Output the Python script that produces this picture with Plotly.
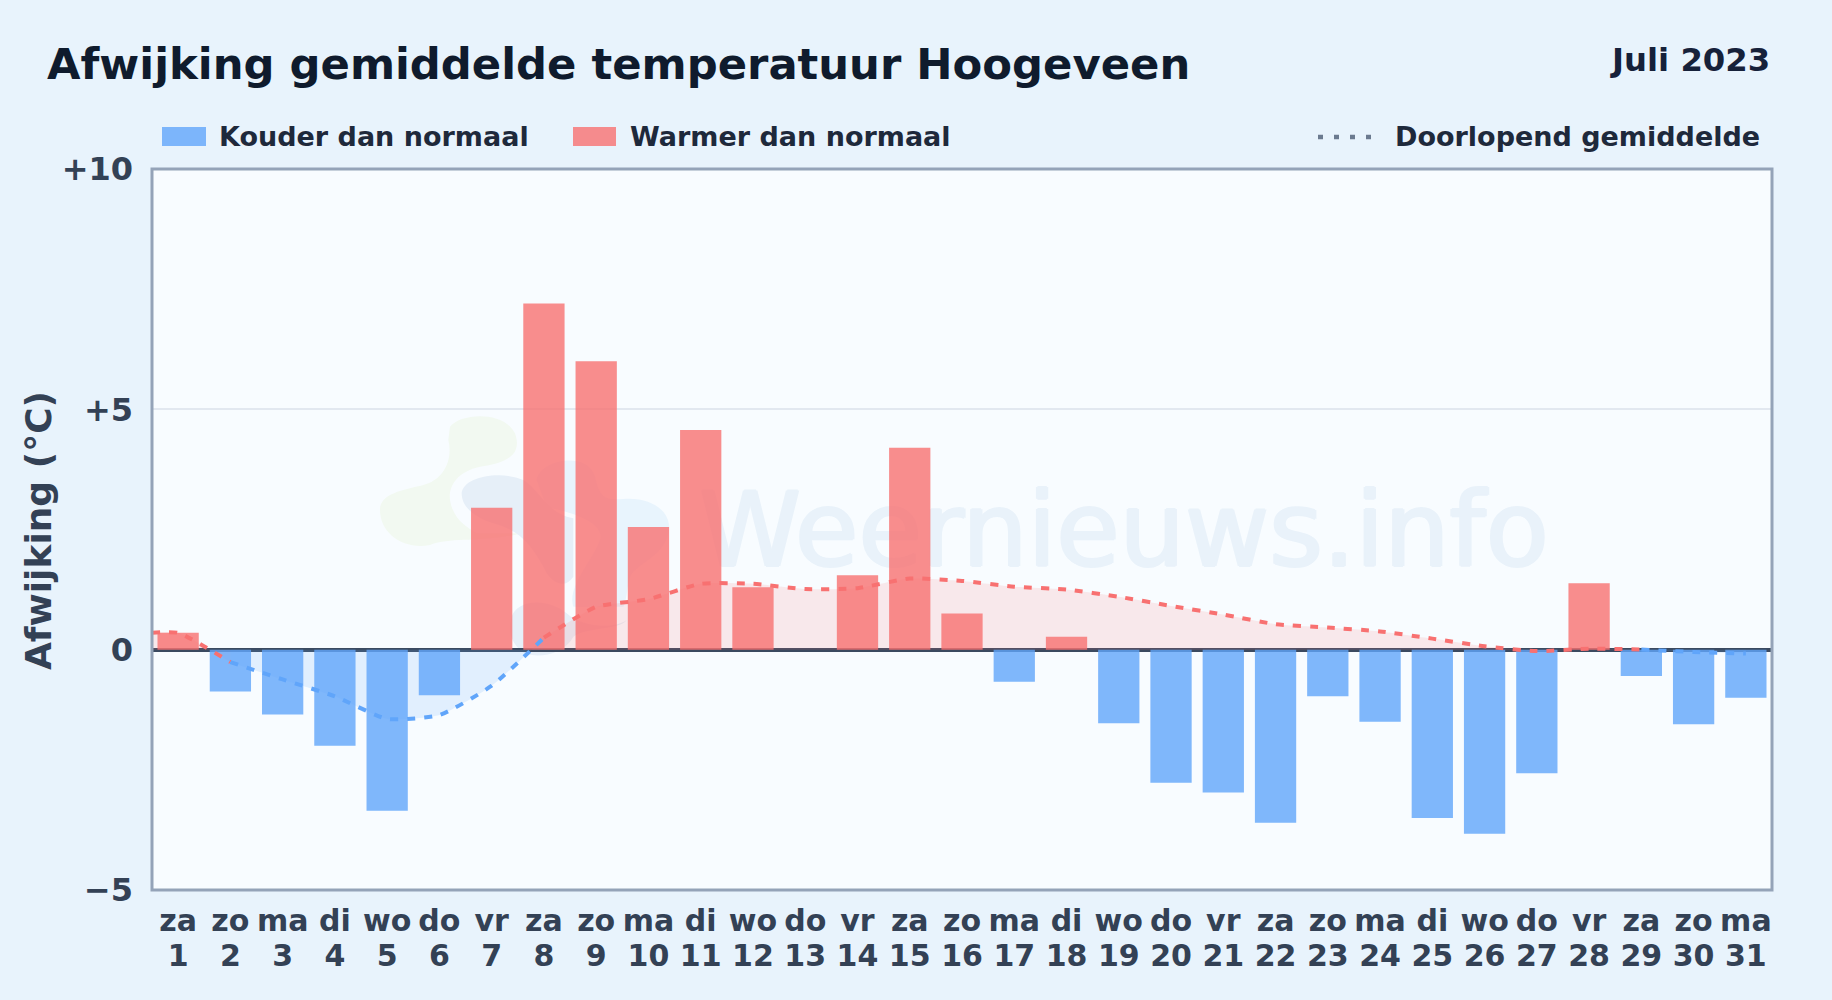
import plotly.graph_objects as go

days = ["za","zo","ma","di","wo","do","vr","za","zo","ma","di","wo","do","vr","za","zo","ma","di","wo","do","vr","za","zo","ma","di","wo","do","vr","za","zo","ma"]
dates = list(range(1, 32))
deviation = [0.35,-0.87,-1.35,-2.0,-3.35,-0.95,2.95,7.2,6.0,2.55,4.57,1.3,0.0,1.55,4.2,0.75,-0.67,0.27,-1.53,-2.77,-2.97,-3.6,-0.97,-1.5,-3.5,-3.83,-2.57,1.38,-0.55,-1.55,-1.0]
running = [0.35,-0.26,-0.62,-0.97,-1.44,-1.36,-0.75,0.25,0.89,1.05,1.37,1.37,1.26,1.28,1.48,1.43,1.31,1.25,1.10,0.91,0.73,0.53,0.46,0.38,0.23,0.07,-0.03,0.02,0.003,-0.05,-0.08]
y_ticks = [-5, 0, 5, 10]
y_labels = ["\u22125", "0", "+5", "+10"]

INK = "#334155"
FONT = "DejaVu Sans"
RED = "rgba(248,113,113,0.8)"
BLUE = "rgba(96,165,250,0.8)"
RED_LINE = "#f87171"
BLUE_LINE = "#60a5fa"
RED_FILL = "rgba(248,113,113,0.14)"
BLUE_FILL = "rgba(96,165,250,0.15)"
SMOOTH = 0.55
WATERMARK = "#e9f2fa"
xr = [0.5, 31.5]

fig = go.Figure()

fig.add_trace(go.Scatter(x=[19.1], y=[2.28], mode="text", text=["Weernieuws.info"],
    textfont=dict(family=FONT, size=103, color=WATERMARK,
                  shadow=f"1.5px 0 0 {WATERMARK}, -1.5px 0 0 {WATERMARK}, 0 1px 0 {WATERMARK}, 0 -1px 0 {WATERMARK}"),
    showlegend=False, hoverinfo="skip"))

segments = [(0, 2, True), (1, 8, False), (7, 29, True), (28, 31, False)]

def segment(start, stop):
    xs = dates[start:stop]
    ys = running[start:stop]
    if start == 0:
        xs = [0.5] + xs
        ys = [running[0]] + ys
    return xs, ys

for a, b, warm in segments:
    xs, ys = segment(a, b)
    fig.add_trace(go.Scatter(x=xs, y=ys, mode="none", fill="tozeroy", line=dict(shape="spline", smoothing=SMOOTH),
        fillcolor=RED_FILL if warm else BLUE_FILL, showlegend=False, hoverinfo="skip"))

colors = [RED if v >= 0 else BLUE for v in deviation]
fig.add_trace(go.Bar(x=dates, y=deviation, marker=dict(color=colors, line=dict(width=0)), width=0.79,
    xaxis="x2", yaxis="y2", showlegend=False))

for a, b, warm in segments:
    xs, ys = segment(a, b)
    fig.add_trace(go.Scatter(x=xs, y=ys, mode="lines", xaxis="x3", yaxis="y3",
        line=dict(color=RED_LINE if warm else BLUE_LINE, width=4, dash="8px,9px", shape="spline", smoothing=SMOOTH),
        showlegend=False, hoverinfo="skip"))

hidden = dict(visible=False, fixedrange=True)
tick_font = dict(family=FONT, size=30, color=INK, weight="bold")
fig.update_layout(
    width=1832, height=1000, margin=dict(l=152, r=60, t=169, b=110),
    paper_bgcolor="#e8f3fc", plot_bgcolor="#f8fcff",
    font=dict(family=FONT, color=INK),
    barmode="overlay",
    xaxis=dict(range=xr, tickmode="array", tickvals=dates, ticktext=days, tickangle=0,
        tickfont=tick_font, ticks="", ticklabelstandoff=10, showgrid=False, zeroline=False, showline=False),
    yaxis=dict(range=[-5, 10], tickmode="array", tickvals=y_ticks, ticktext=y_labels,
        tickfont=dict(family=FONT, size=32, color=INK, weight="bold"), ticks="", ticklabelstandoff=18,
        showgrid=True, gridcolor="#e2e8f0", gridwidth=2, zeroline=False, showline=False),
    xaxis2=dict(range=xr, overlaying="x", **hidden),
    yaxis2=dict(range=[-5, 10], overlaying="y", **hidden),
    xaxis3=dict(range=xr, overlaying="x", anchor="y", tickmode="array", tickvals=dates, ticktext=[str(d) for d in dates],
        tickangle=0, tickfont=tick_font, ticks="", ticklabelstandoff=45, showgrid=False, zeroline=False, showline=False),
    yaxis3=dict(range=[-5, 10], overlaying="y", visible=True, showgrid=False, showline=False, ticks="", showticklabels=False,
        zeroline=True, zerolinecolor="#3b4a60", zerolinewidth=4, fixedrange=True),
)

plot_w, plot_h = 1832 - 152 - 60, 1000 - 169 - 110
def ax(v):
    return (v - 152) / plot_w
def ay(v):
    return 1 - (v - 169) / plot_h

texts = [
    ("Afwijking gemiddelde temperatuur Hoogeveen", 45, 64, "left", 43.3, "#0f1b2d", 0),
    ("Juli 2023", 1772, 60, "right", 32.3, "#16213a", 0),
    ("Kouder dan normaal", 217, 136, "left", 27, "#1e293b", 0),
    ("Warmer dan normaal", 628, 136, "left", 27, "#1e293b", 0),
    ("Doorlopend gemiddelde", 1393, 136, "left", 27, "#1e293b", 0),
    ("Afwijking (\u00b0C)", 38, 530, "center", 36, INK, -90),
]
annotations = []
for t, x, y, anchor, s, c, ang in texts:
    annotations.append(dict(text=f"<b>{t}</b>", x=ax(x), y=ay(y), xref="paper", yref="paper", showarrow=False,
        xanchor=anchor, yanchor="middle", textangle=ang, font=dict(family=FONT, size=s, color=c)))
fig.layout.annotations = annotations

# Faint logo behind the bars, outlined from the reference crop
def logo_path(cmds):
    out = []
    for cmd in cmds:
        letter, pts = cmd[0], cmd[1:]
        coords = " ".join(f"{ax(360 + px / 3):.5f},{ay(400 + py / 3):.5f}" for px, py in pts)
        out.append(f"{letter} {coords}")
    return " ".join(out) + " Z"

logo_green = [("M", (270, 80)), ("C", (300, 40), (430, 30), (465, 100)), ("C", (490, 170), (430, 190), (360, 200)),
    ("C", (290, 215), (265, 260), (270, 300)), ("C", (280, 360), (320, 380), (350, 400)), ("L", (490, 400), (490, 570), (420, 550)),
    ("C", (350, 430), (280, 410), (210, 435)), ("C", (130, 450), (60, 400), (60, 330)), ("C", (60, 280), (130, 270), (190, 255)),
    ("C", (250, 240), (280, 180), (265, 120))]
logo_grey = [("M", (305, 280)), ("C", (310, 230), (420, 210), (490, 240)), ("C", (540, 270), (560, 340), (640, 355)),
    ("L", (640, 530)), ("C", (620, 560), (590, 560), (560, 520)), ("C", (520, 440), (480, 390), (400, 370)), ("C", (340, 350), (305, 320), (305, 280))]
logo_light = [("M", (530, 240)), ("C", (540, 180), (680, 150), (705, 230)), ("C", (720, 300), (740, 300), (790, 297)),
    ("C", (880, 290), (940, 340), (925, 400)), ("C", (910, 470), (830, 490), (810, 530)), ("C", (800, 570), (800, 600), (790, 620)),
    ("L", (640, 620)), ("C", (620, 560), (700, 480), (720, 420)), ("C", (740, 360), (600, 330), (560, 320))]
logo_low = [("M", (455, 650)), ("C", (470, 600), (560, 590), (620, 640)), ("C", (660, 680), (760, 690), (800, 660)),
    ("C", (780, 690), (680, 680), (640, 710)), ("C", (610, 770), (510, 780), (480, 750)), ("C", (450, 720), (445, 690), (455, 650))]

def logo_shape(cmds, color):
    return dict(type="path", xref="paper", yref="paper", path=logo_path(cmds), fillcolor=color, line_width=0, layer="below")

fig.layout.shapes = [
    logo_shape(logo_green, "#f2f9f1"),
    logo_shape(logo_light, "#e8f4fd"),
    logo_shape(logo_grey, "#e6eff8"),
    logo_shape(logo_low, "#e6eff8"),
    dict(type="rect", xref="paper", yref="paper", x0=0, x1=1, y0=0, y1=1, line=dict(color="#94a3b8", width=3), layer="above"),
    dict(type="rect", xref="paper", yref="paper", x0=ax(162), x1=ax(206), y0=ay(127), y1=ay(146), fillcolor=BLUE, line_width=0),
    dict(type="rect", xref="paper", yref="paper", x0=ax(573), x1=ax(616), y0=ay(127), y1=ay(146), fillcolor=RED, line_width=0),
    dict(type="line", xref="paper", yref="paper", x0=ax(1318), x1=ax(1376), y0=ay(137), y1=ay(137),
         line=dict(color="#6b7a8f", width=4.5, dash="5px,11px")),
]

fig.write_html("out.html", config={"displayModeBar": False},
    post_script="document.body.style.margin='0';document.body.style.overflow='hidden';")
